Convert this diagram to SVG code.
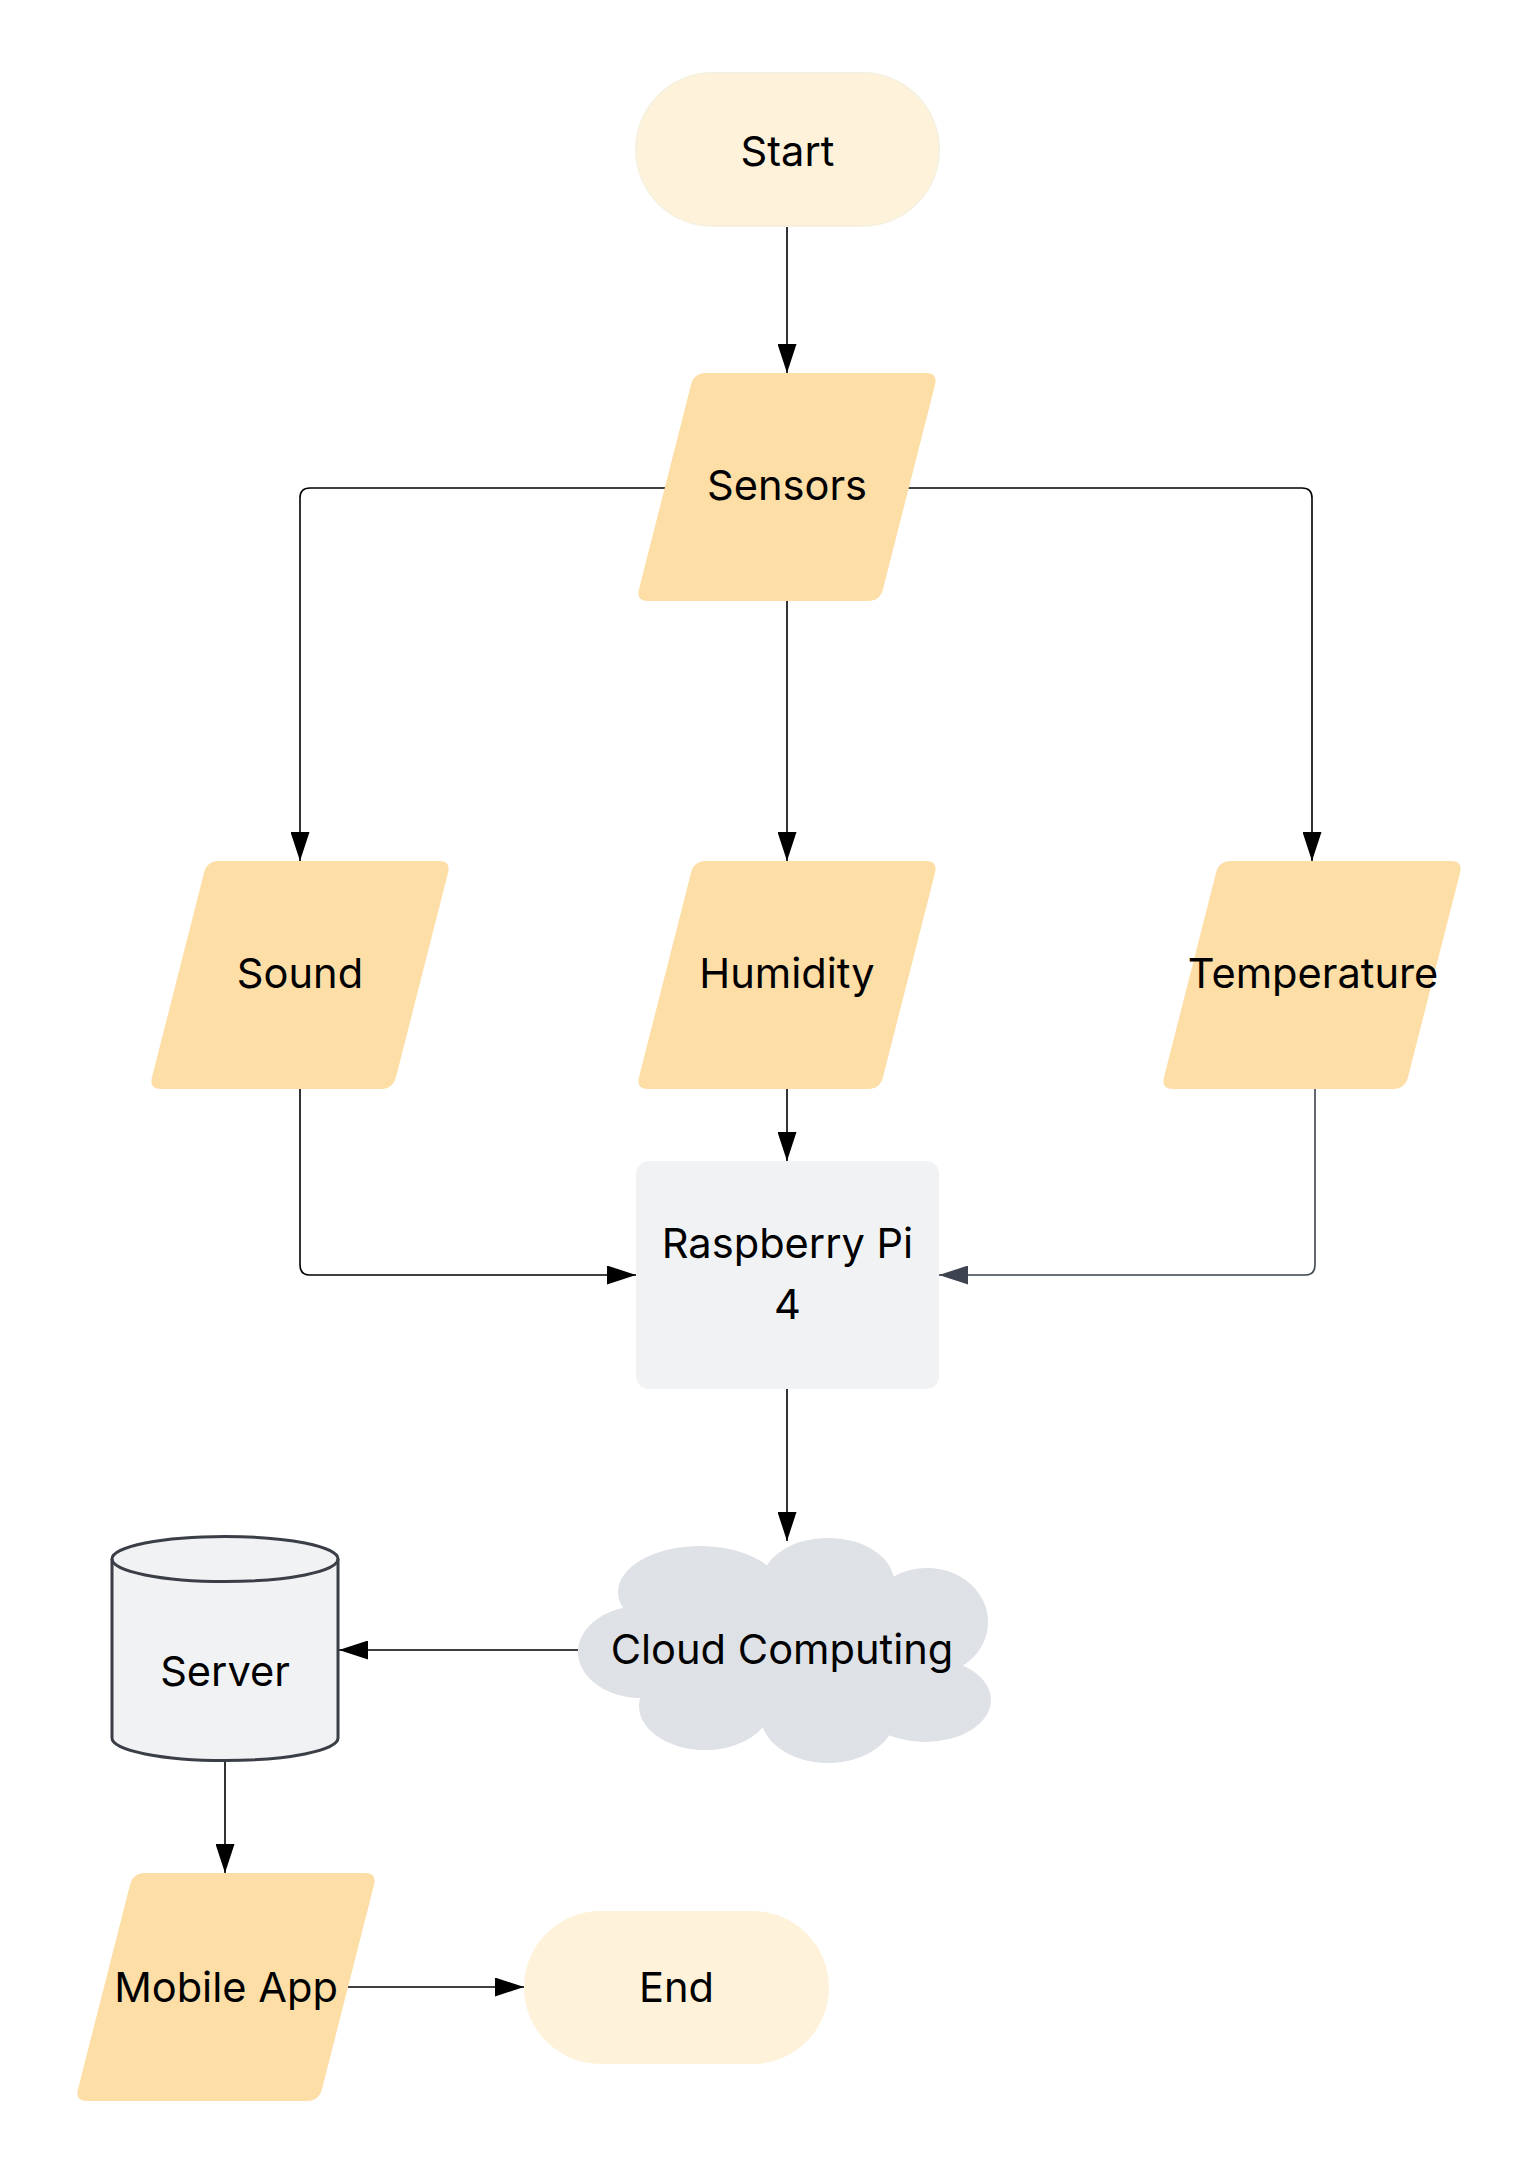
<svg xmlns="http://www.w3.org/2000/svg" xmlns:xlink="http://www.w3.org/1999/xlink" width="1538" height="2175" viewBox="0 0 1538 2175">
<style>
.lbl{font-family:Inter,"Liberation Sans",sans-serif;font-size:41.6px;fill:#000;text-anchor:middle}
.para{fill:#fddea6}
.term{fill:#fef3da}
.edge{fill:none;stroke:#000;stroke-width:1.6}
</style>
<defs>
<path id="para" d="M -81 -114 L 139 -114 Q 151 -114 148.04 -102.37 L 95.96 102.37 Q 93 114 81 114 L -139 114 Q -151 114 -148.04 102.37 L -95.96 -102.37 Q -93 -114 -81 -114 Z"/>
<marker id="ah" viewBox="0 0 29 19" refX="29" refY="9.5" markerWidth="29" markerHeight="19" markerUnits="userSpaceOnUse" orient="auto"><path d="M0 0 L29 9.5 L0 19 Z" fill="#000"/></marker>
<marker id="ahg" viewBox="0 0 29 19" refX="29" refY="9.5" markerWidth="29" markerHeight="19" markerUnits="userSpaceOnUse" orient="auto"><path d="M0 0 L29 9.5 L0 19 Z" fill="#3d4450"/></marker>
</defs>
<rect width="1538" height="2175" fill="#fff"/>
<g id="connectors">
<path class="edge" d="M787 226 L787 373" marker-end="url(#ah)"/>
<path class="edge" d="M665 488 L310 488 Q300 488 300 498 L300 861" marker-end="url(#ah)"/>
<path class="edge" d="M787 601 L787 861" marker-end="url(#ah)"/>
<path class="edge" d="M907 488 L1302 488 Q1312 488 1312 498 L1312 861" marker-end="url(#ah)"/>
<path class="edge" d="M300 1089 L300 1265 Q300 1275 310 1275 L636 1275" marker-end="url(#ah)"/>
<path class="edge" d="M787 1089 L787 1161" marker-end="url(#ah)"/>
<path class="edge" d="M1315 1089 L1315 1265 Q1315 1275 1305 1275 L939 1275" style="stroke:#3d4450" marker-end="url(#ahg)"/>
<path class="edge" d="M787 1389 L787 1541" marker-end="url(#ah)"/>
<path class="edge" d="M578 1650 L339 1650" marker-end="url(#ah)"/>
<path class="edge" d="M225 1760 L225 1873" marker-end="url(#ah)"/>
<path class="edge" d="M348 1987 L524 1987" marker-end="url(#ah)"/>
</g>
<g id="start">
<rect class="term" x="636" y="73" width="303" height="153" rx="76.5" stroke="#f6f1df" stroke-width="2"/>
<text class="lbl" x="787.5" y="166">Start</text>
</g>
<g id="sensors">
<use xlink:href="#para" href="#para" class="para" x="787" y="487"/>
<text class="lbl" x="787" y="500">Sensors</text>
</g>
<g id="sound">
<use xlink:href="#para" href="#para" class="para" x="300" y="975"/>
<text class="lbl" x="300" y="988">Sound</text>
</g>
<g id="humidity">
<use xlink:href="#para" href="#para" class="para" x="787" y="975"/>
<text class="lbl" x="787" y="988">Humidity</text>
</g>
<g id="temperature">
<use xlink:href="#para" href="#para" class="para" x="1312" y="975"/>
<text class="lbl" x="1313" y="988">Temperature</text>
</g>
<g id="raspberry">
<rect x="636" y="1161" width="303" height="228" rx="13" fill="#f1f2f4"/>
<text class="lbl" x="787.5" y="1258">Raspberry Pi</text>
<text class="lbl" x="787.5" y="1319">4</text>
</g>
<g id="cloud">
<g fill="#dee1e6">
<ellipse cx="700" cy="1592" rx="82" ry="46"/>
<ellipse cx="828" cy="1582" rx="66" ry="44"/>
<ellipse cx="927" cy="1622" rx="61" ry="54"/>
<ellipse cx="641" cy="1652" rx="63" ry="46"/>
<ellipse cx="925" cy="1700" rx="66" ry="42"/>
<ellipse cx="828" cy="1714" rx="68" ry="49"/>
<ellipse cx="705" cy="1706" rx="66" ry="44"/>
<ellipse cx="790" cy="1650" rx="170" ry="78"/>
</g>
<text class="lbl" x="782" y="1664">Cloud Computing</text>
</g>
<g id="server">
<path d="M112 1559 L112 1738 A113 22.5 0 0 0 338 1738 L338 1559 A113 22.5 0 0 0 112 1559 Z" fill="#f1f2f4" stroke="#3a3f47" stroke-width="3"/>
<path d="M112 1559 A113 22.5 0 0 0 338 1559" fill="none" stroke="#3a3f47" stroke-width="3"/>
<text class="lbl" x="225" y="1686">Server</text>
</g>
<g id="mobile">
<use xlink:href="#para" href="#para" class="para" x="226" y="1987"/>
<text class="lbl" x="226" y="2002">Mobile App</text>
</g>
<g id="end">
<rect class="term" x="524" y="1911" width="305" height="153" rx="76.5"/>
<text class="lbl" x="676.5" y="2002">End</text>
</g>
</svg>
